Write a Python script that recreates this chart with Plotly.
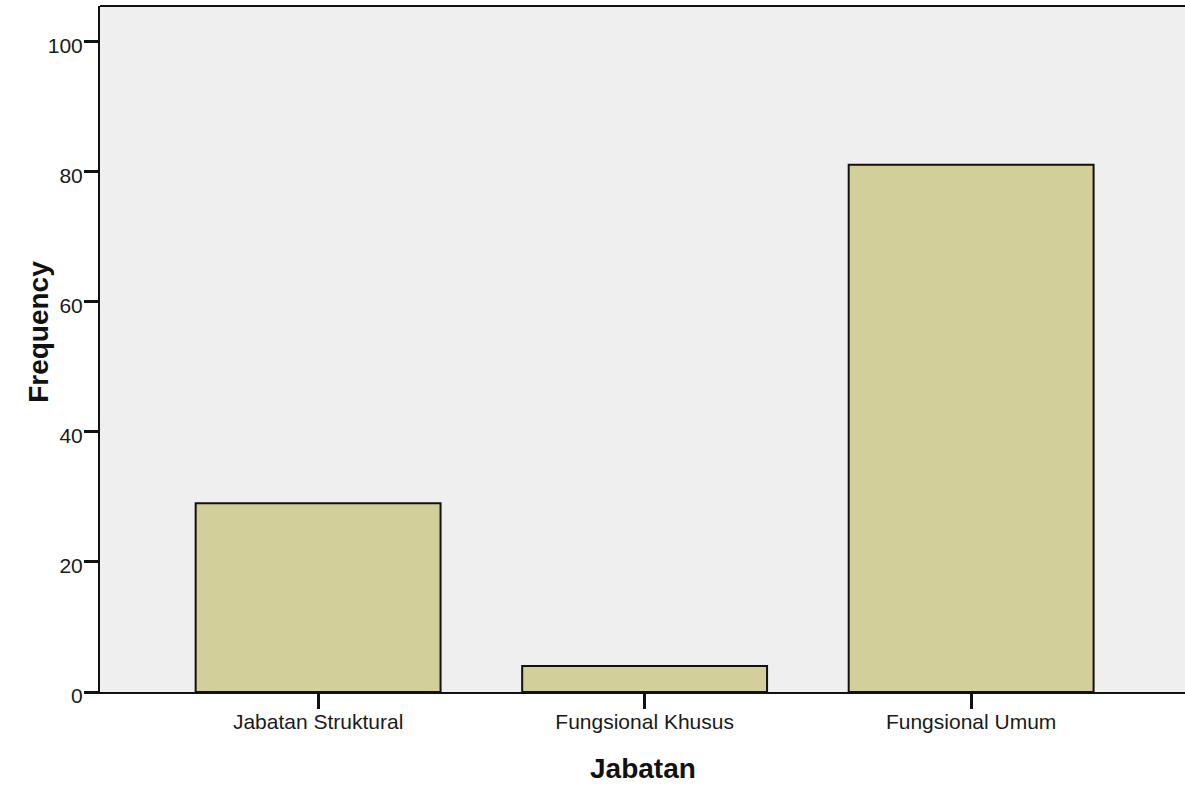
import plotly.graph_objects as go

categories = ["Jabatan Struktural", "Fungsional Khusus", "Fungsional Umum"]
frequency = [29, 4, 81]
y_ticks = [0, 20, 40, 60, 80, 100]

fig = go.Figure()
fig.add_trace(go.Bar(
    x=categories, y=frequency, width=0.75,
    marker=dict(color="#d3cf9b", line=dict(color="#111111", width=2)),
    hoverinfo="x+y",
))

fig.update_layout(
    width=1185, height=788,
    margin=dict(l=100, r=0, t=6, b=96),
    paper_bgcolor="white", plot_bgcolor="#efefef",
    font=dict(family="Liberation Sans, Arial, sans-serif", size=21, color="#1a1a1a"),
    showlegend=False,
    xaxis=dict(
        range=[-0.668, 2.655], showgrid=False, zeroline=False,
        showline=True, linecolor="#111111", linewidth=2,
        ticks="outside", ticklen=15, tickwidth=3, tickcolor="#111111",
        tickfont=dict(size=21), ticklabelstandoff=-5,
    ),
    yaxis=dict(
        range=[0, 105.4], showgrid=False, zeroline=False,
        showline=True, linecolor="#111111", linewidth=2,
        ticks="outside", ticklen=14, tickwidth=3, tickcolor="#111111",
        tickvals=y_ticks, ticktext=[str(v) for v in y_ticks],
        tickfont=dict(size=21), ticklabelstandoff=-3, ticklabelshift=4,
    ),
    shapes=[dict(type="line", xref="paper", yref="paper", x0=0, x1=1, y0=1, y1=1,
                 line=dict(color="#111111", width=2))],
    annotations=[
        dict(text="<b>Jabatan</b>", xref="paper", yref="paper", x=0.5, y=-0.086,
             xanchor="center", yanchor="top", showarrow=False,
             font=dict(size=28, color="#111111")),
        dict(text="<b>Frequency</b>", xref="paper", yref="paper", x=-0.0562, y=0.525,
             xanchor="center", yanchor="middle", showarrow=False, textangle=-90,
             font=dict(size=28, color="#111111")),
    ],
)

fig.write_html(
    "out.html",
    config={"displayModeBar": False},
    post_script="document.body.style.margin='0';document.body.style.padding='0';document.body.style.overflow='hidden';",
)
